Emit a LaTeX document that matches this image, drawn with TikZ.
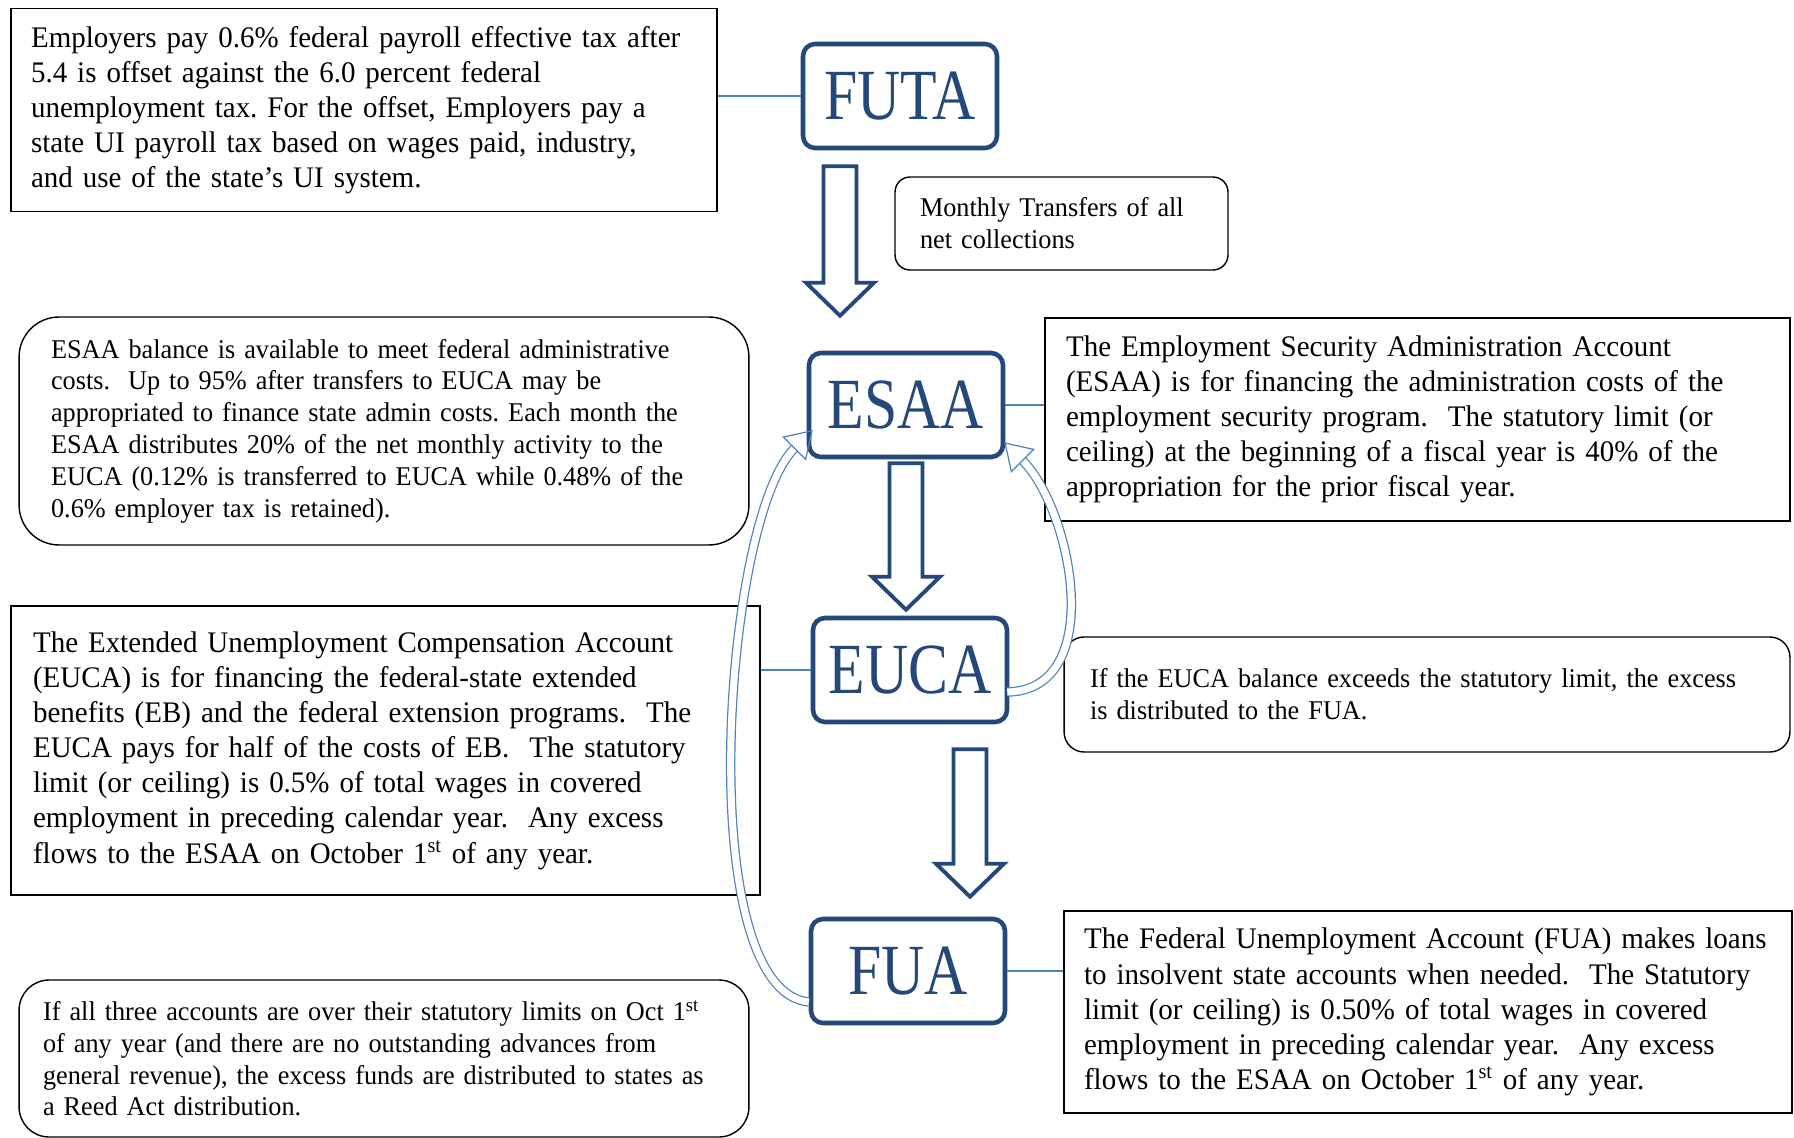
\documentclass[tikz,border=0pt]{standalone}
\usepackage{fontspec}
\setmainfont{Liberation Serif}[FakeStretch=0.97]
\newfontfamily\labelfont[FakeStretch=0.83]{Liberation Serif}
\usetikzlibrary{calc,arrows.meta}
\definecolor{acctblue}{RGB}{36,72,122}
\definecolor{linkblue}{RGB}{79,129,189}
\frenchspacing

\begin{document}
\begin{tikzpicture}
                [x=0.02cm, y=-0.02cm,
                acct/.style={draw=acctblue, line width=2.6pt, rounded corners=0.24cm, fill=white, text=acctblue, font=\labelfont\fontsize{41}{41}\selectfont, minimum width=3.88cm, minimum height=2.08cm, inner sep=0pt},
                note/.style={draw=black, line width=0.8pt, align=left, inner ysep=0pt, font=\fontsize{17}{20}\selectfont},
                smallnote/.style={note, rounded corners=#1, font=\fontsize{15.4}{18.1}\selectfont},
                link/.style={draw=linkblue, line width=0.9pt},
                blockflow/.style={draw=acctblue, line width=2.2pt, fill=white, line join=miter,
                    to path={($(\tikztostart)+(-16.5,0)$) -- ($(\tikztostart)+(16.5,0)$) -- ($(\tikztotarget)+(16.5,-33)$) -- ($(\tikztotarget)+(34,-33)$) -- (\tikztotarget) -- ($(\tikztotarget)+(-34,-33)$) -- ($(\tikztotarget)+(-16.5,-33)$) -- cycle}},
                backflow/.style={draw=linkblue, line width=0.7pt, double=white, double distance=4pt, -{Triangle[open, length=15pt, width=19pt]}}]
                \useasboundingbox (0,0) rectangle (1794,1138);
                % Define nodes
                \node[note, minimum width=14.12cm, minimum height=4.06cm, text width=13.32cm, inner xsep=0.4cm] (futanote) at (364,110) {Employers pay 0.6\% federal payroll effective tax after\\ 5.4 is offset against the 6.0 percent federal\\ unemployment tax. For the offset, Employers pay a\\ state UI payroll tax based on wages paid, industry,\\ and use of the state’s UI system.};
                \node[smallnote=0.3cm, minimum width=6.66cm, minimum height=1.86cm, text width=5.66cm, inner xsep=0.5cm] (monthly) at (1061.5,223.5) {Monthly Transfers of all\\ net collections};
                \node[smallnote=0.8cm, minimum width=14.6cm, minimum height=4.56cm, text width=13.32cm, inner xsep=0.64cm] (esaanote) at (384,431) {ESAA balance is available to meet federal administrative\\ costs.\ \ Up to 95\% after transfers to EUCA may be\\ appropriated to finance state admin costs. Each month the\\ ESAA distributes 20\% of the net monthly activity to the\\ EUCA (0.12\% is transferred to EUCA while 0.48\% of the\\ 0.6\% employer tax is retained).};
                \node[note, minimum width=14.9cm, minimum height=4.06cm, text width=14.06cm, inner xsep=0.42cm] (esaainfo) at (1417.5,419.5) {The Employment Security Administration Account\\ (ESAA) is for financing the administration costs of the\\ employment security program.\ \ The statutory limit (or\\ ceiling) at the beginning of a fiscal year is 40\% of the\\ appropriation for the prior fiscal year.};
                \node[note, minimum width=14.98cm, minimum height=5.78cm, text width=14.1cm, inner xsep=0.44cm] (eucanote) at (385.5,750.5) {The Extended Unemployment Compensation Account\\ (EUCA) is for financing the federal-state extended\\ benefits (EB) and the federal extension programs.\ \ The\\ EUCA pays for half of the costs of EB.\ \ The statutory\\ limit (or ceiling) is 0.5\% of total wages in covered\\ employment in preceding calendar year.\ \ Any excess\\ flows to the ESAA on October 1\textsuperscript{st} of any year.};
                \node[smallnote=0.4cm, minimum width=14.52cm, minimum height=2.3cm, text width=13.48cm, inner xsep=0.52cm] (eucainfo) at (1427,694.5) {If the EUCA balance exceeds the statutory limit, the excess\\ is distributed to the FUA.};
                \node[note, minimum width=14.56cm, minimum height=4.04cm, text width=13.76cm, inner xsep=0.4cm] (fuainfo) at (1428,1012) {The Federal Unemployment Account (FUA) makes loans\\ to insolvent state accounts when needed.\ \ The Statutory\\ limit (or ceiling) is 0.50\% of total wages in covered\\ employment in preceding calendar year.\ \ Any excess\\ flows to the ESAA on October 1\textsuperscript{st} of any year.};
                \node[smallnote=0.6cm, minimum width=14.6cm, minimum height=3.14cm, text width=13.64cm, inner xsep=0.48cm] (reednote) at (384,1058.5) {If all three accounts are over their statutory limits on Oct 1\textsuperscript{st}\\ of any year (and there are no outstanding advances from\\ general revenue), the excess funds are distributed to states as\\ a Reed Act distribution.};
                \node[acct] (futa) at (900,96) {FUTA};
                \node[acct] (esaa) at (906,405) {ESAA};
                \node[acct] (euca) at (910,670) {EUCA};
                \node[acct] (fua) at (908,971) {FUA};
                % Define edges
                \draw[link] (futa.west) -- (futa.west -| futanote.east);
                \draw[link] (esaa.east) -- (esaa.east -| esaainfo.west);
                \draw[link] (euca.west) -- (euca.west -| eucanote.east);
                \draw[link] (fua.east) -- (fua.east -| fuainfo.west);
                \coordinate (f2etop) at ($(futa.south)+(-60,16)$);
                \coordinate (f2etip) at ($(esaa.north)+(-66,-35)$);
                \coordinate (e2utop) at ($(esaa.south)+(0,4)$);
                \coordinate (e2utip) at ($(euca.north)+(-4,-6)$);
                \coordinate (u2ftop) at ($(euca.south)+(60,25)$);
                \coordinate (u2ftip) at ($(fua.north)+(62,-20)$);
                \draw[blockflow] (f2etop) to (f2etip);
                \draw[blockflow] (e2utop) to (e2utip);
                \draw[blockflow] (u2ftop) to (u2ftip);
                \draw[backflow] ($(euca.east)+(-2,22)$) .. controls +(100,-2) and +(68,68) .. ($(esaa.south east)+(-1,-17)$);
                \draw[backflow] ($(fua.west)+(0,31)$) .. controls +(-117,-12) and +(-90,90) .. ($(esaa.west)+(6,25)$);
            \end{tikzpicture}
\end{document}
